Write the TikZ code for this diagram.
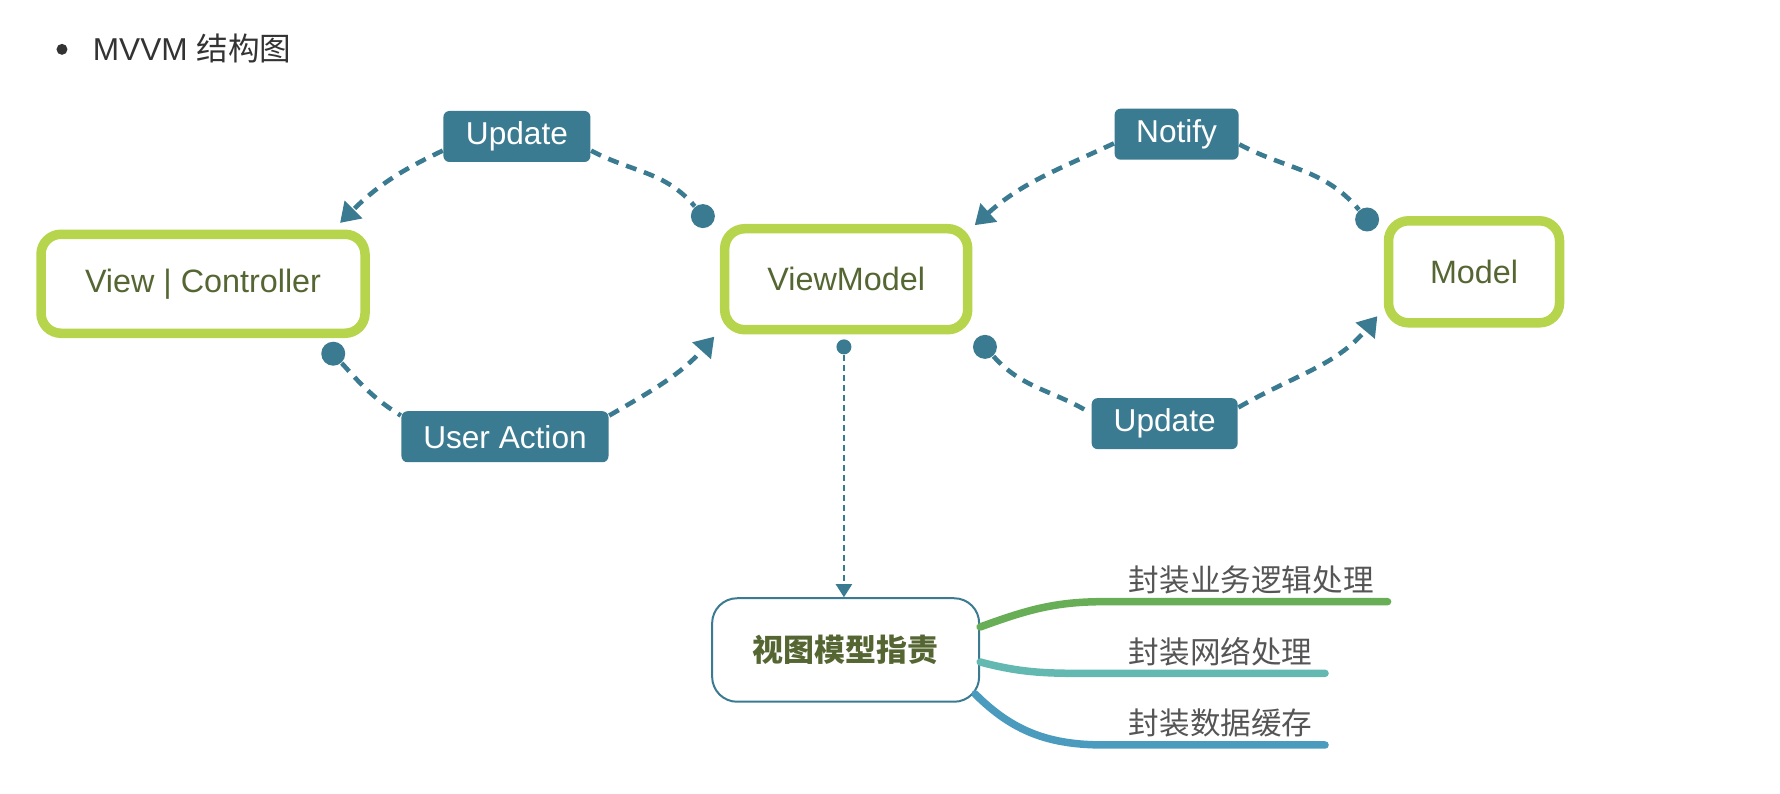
\documentclass[tikz,border=0pt]{standalone}
\usepackage{fontspec}
\setmainfont{Liberation Sans}
\newfontfamily\cjk{Noto Sans CJK SC}
\usetikzlibrary{arrows.meta}
\definecolor{tagblue}{HTML}{3B7B91}
\definecolor{boxgreen}{HTML}{B6D44C}
\definecolor{olivetext}{HTML}{556633}
\definecolor{leafgreen}{HTML}{67AE56}
\definecolor{leafteal}{HTML}{63B9B1}
\definecolor{leafblue}{HTML}{4A9BBD}
\definecolor{leaftext}{HTML}{555555}
\begin{document}
\begin{tikzpicture}[x=0.11374mm, y=0.11374mm,
    box/.style={draw=boxgreen, line width=0.95mm, rounded corners=2mm, text=olivetext, font=\fontsize{9.2}{11}\selectfont},
    tag/.style={fill=tagblue, text=white, rounded corners=0.6mm, minimum height=5.1mm, inner sep=0pt, font=\fontsize{9}{11}\selectfont},
    flow/.style={draw=tagblue, line width=1.3pt, dash pattern=on 1.1mm off 0.8mm},
    dot/.style={circle, fill=tagblue, inner sep=0pt, minimum size=2.4mm},
    tip/.style={-{Triangle[length=1.9mm,width=2.4mm]}},
    leaf/.style={line width=0.75mm, line cap=round},
    leaflabel/.style={anchor=west, inner sep=0pt, text=leaftext, font=\cjk\fontsize{8.7}{10}\selectfont}]
    \useasboundingbox (0,0) rectangle (1565,-698);
    % title
    \node[circle, fill=black!80, inner sep=0pt, minimum size=1.1mm] (bullet) at (54.5,-43.4) {};
    \node[anchor=west, inner sep=0pt, text=black!80, font=\fontsize{9}{11}\selectfont] (title) at (81,-43) {MVVM {\cjk 结构图}};
    % boxes
    \node[box, minimum width=32.4mm, minimum height=9.9mm] (vc) at (178.5,-249.5) {View | Controller};
    \node[box, minimum width=24.3mm, minimum height=10.1mm] (vm) at (744,-245.5) {ViewModel};
    \node[box, minimum width=17.1mm, minimum height=10.2mm] (md) at (1296,-239) {Model};
    % labels
    \node[tag, minimum width=14.7mm] (upd1) at (454.5,-120) {Update};
    \node[tag, minimum width=20.7mm] (ua) at (444,-384) {User Action};
    \node[tag, minimum width=12.4mm] (nt) at (1034.5,-118) {Notify};
    \node[tag, minimum width=14.6mm] (upd2) at (1024,-372.5) {Update};
    % dots and arrow ends
    \node[dot] (vmtl) at (618,-190) {};
    \node[dot] (vcbr) at (293,-311) {};
    \node[dot] (mdtl) at (1202,-193) {};
    \node[dot] (vmbr) at (866,-305) {};
    \node[dot, minimum size=1.5mm] (vmdot) at (742,-305) {};
    \coordinate (vcin) at (299,-196);
    \coordinate (vmin) at (628,-296);
    \coordinate (vmtr) at (857,-198);
    \coordinate (mdin) at (1211,-278);
    % connectors
    \draw[flow,tip] ([yshift=1.2mm]upd1.south west) to[out=205,in=45] (vcin);
    \draw[flow] ([yshift=1.2mm]upd1.south east) to[out=-28,in=130] (vmtl);
    \draw[flow] (vcbr) to[out=-48,in=148] ([yshift=-0.5mm]ua.north west);
    \draw[flow,tip] ([yshift=-0.5mm]ua.north east) to[out=30,in=-132] (vmin);
    \draw[flow,tip] ([yshift=1.7mm]nt.south west) to[out=205,in=42] (vmtr);
    \draw[flow] ([yshift=1.6mm]nt.south east) to[out=-28,in=130] (mdtl);
    \draw[flow] (vmbr) to[out=-48,in=148] ([yshift=-1.6mm]upd2.north west);
    \draw[flow,tip] ([yshift=-1mm]upd2.north east) to[out=30,in=-130] (mdin);
    % responsibilities
    \node[draw=tagblue, line width=0.2mm, rounded corners=2.5mm, minimum width=26.7mm, minimum height=10.35mm,
        text=olivetext, font=\cjk\bfseries\fontsize{8.8}{10}\selectfont] (duty) at (743.5,-571.5) {视图模型指责};
    \draw[draw=tagblue, line width=0.2mm, dash pattern=on 0.6mm off 0.4mm, -{Triangle[length=1.3mm,width=1.6mm]}]
        (vmdot) -- (vmdot |- duty.north);
    \node[leaflabel] (b1) at (992,-510) {封装业务逻辑处理};
    \node[leaflabel] (b2) at (992,-573) {封装网络处理};
    \node[leaflabel] (b3) at (992,-636) {封装数据缓存};
    \coordinate (l1a) at (971,-529);
    \coordinate (l1b) at (1220,-529);
    \coordinate (l2a) at (971,-592);
    \coordinate (l2b) at (1165,-592);
    \coordinate (l3a) at (971,-655);
    \coordinate (l3b) at (1165,-655);
    \draw[leaf, leafgreen] ([yshift=2.3mm]duty.east) to[out=20,in=180] (l1a) -- (l1b);
    \draw[leaf, leafteal] ([yshift=-1.2mm]duty.east) to[out=-15,in=180] (l2a) -- (l2b);
    \draw[leaf, leafblue] ([xshift=-0.5mm,yshift=-4.4mm]duty.east) to[out=-45,in=180] (l3a) -- (l3b);
\end{tikzpicture}
\end{document}
